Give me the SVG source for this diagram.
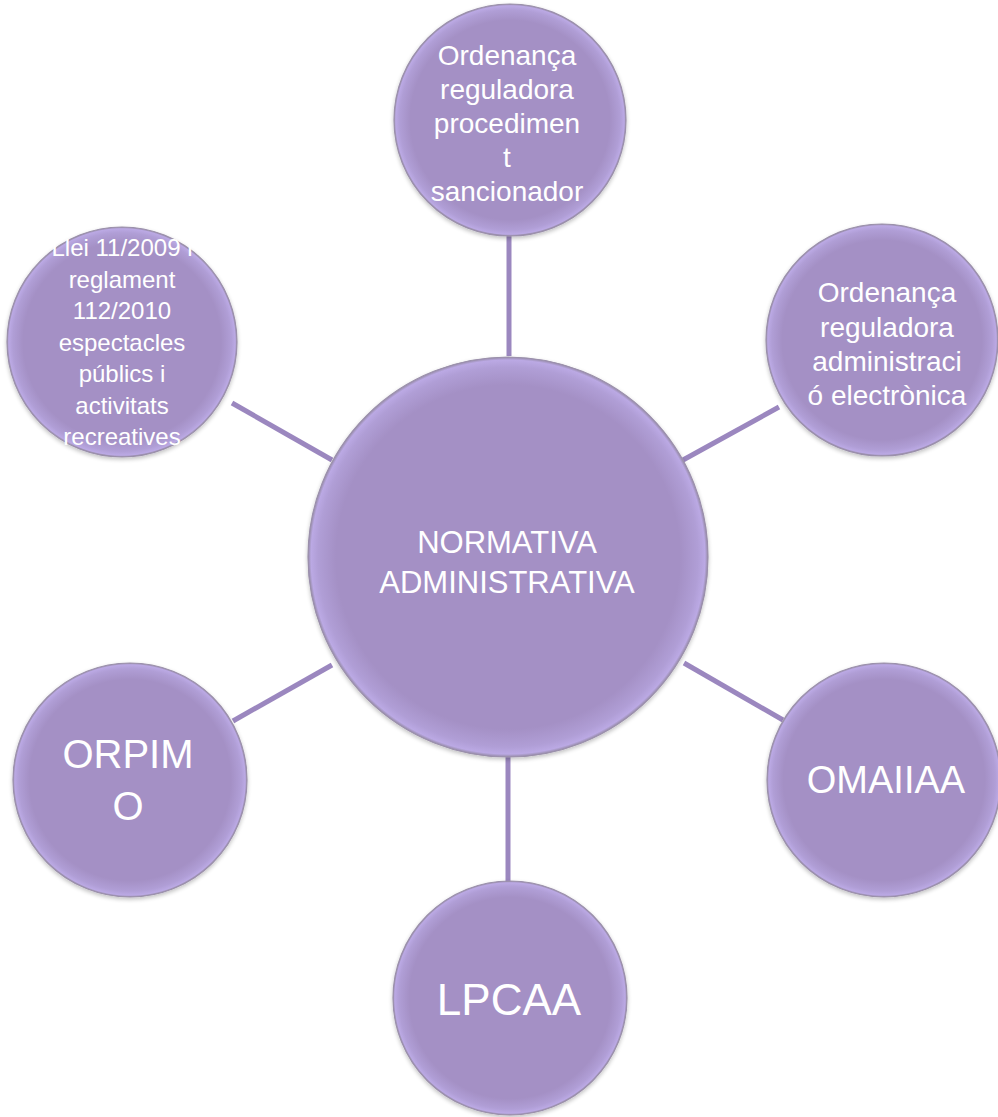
<svg xmlns="http://www.w3.org/2000/svg" width="998" height="1117" viewBox="0 0 998 1117">
<defs>
<radialGradient id="g" cx="0.5" cy="0.5" r="0.5">
<stop offset="0" stop-color="#a490c5"/>
<stop offset="0.86" stop-color="#a490c5"/>
<stop offset="0.95" stop-color="#b09ed6"/>
<stop offset="0.985" stop-color="#bba9e4"/>
<stop offset="1" stop-color="#958aa6"/>
</radialGradient>
<filter id="sh" x="-10%" y="-10%" width="120%" height="120%">
<feGaussianBlur in="SourceAlpha" stdDeviation="2"/>
<feOffset dx="0" dy="2"/>
<feComponentTransfer><feFuncA type="linear" slope="0.25"/></feComponentTransfer>
<feMerge><feMergeNode/><feMergeNode in="SourceGraphic"/></feMerge>
</filter>
</defs>
<style>
.c{fill:url(#g);stroke:#9b90ab;stroke-width:1.2;filter:url(#sh)}
.t{fill:#ffffff;font-family:"Liberation Sans",Arial,sans-serif;text-anchor:middle}
.l{stroke:#9b87bf;stroke-width:5;fill:none}
</style>
<rect width="998" height="1117" fill="#ffffff"/>
<g id="connectors">
<line class="l" x1="509" y1="232" x2="509" y2="356"/>
<line class="l" x1="232" y1="403" x2="332" y2="460"/>
<line class="l" x1="683" y1="460" x2="779" y2="407"/>
<line class="l" x1="233" y1="721" x2="332" y2="665"/>
<line class="l" x1="684" y1="663" x2="783" y2="720"/>
<line class="l" x1="508" y1="757" x2="508" y2="884"/>
</g>
<g id="center">
<circle class="c" cx="508" cy="557" r="200"/>
<text class="t" font-size="31" x="507" y="553">NORMATIVA</text>
<text class="t" font-size="31" x="507" y="593">ADMINISTRATIVA</text>
</g>
<g id="top">
<circle class="c" cx="510" cy="120" r="116"/>
<text class="t" font-size="28"><tspan x="507" y="65">Ordenança</tspan><tspan x="507" y="99">reguladora</tspan><tspan x="507" y="133">procedimen</tspan><tspan x="507" y="167">t</tspan><tspan x="507" y="201">sancionador</tspan></text>
</g>
<g id="upper-left">
<circle class="c" cx="122" cy="342" r="115"/>
<text class="t" font-size="24"><tspan x="122" y="256">Llei 11/2009 i</tspan><tspan x="122" y="287.5">reglament</tspan><tspan x="122" y="319">112/2010</tspan><tspan x="122" y="350.5">espectacles</tspan><tspan x="122" y="382">públics i</tspan><tspan x="122" y="413.5">activitats</tspan><tspan x="122" y="445">recreatives</tspan></text>
</g>
<g id="upper-right">
<circle class="c" cx="882" cy="340" r="116"/>
<text class="t" font-size="28"><tspan x="887" y="302">Ordenança</tspan><tspan x="887" y="337">reguladora</tspan><tspan x="887" y="371">administraci</tspan><tspan x="887" y="405">ó electrònica</tspan></text>
</g>
<g id="lower-left">
<circle class="c" cx="130" cy="780" r="117"/>
<text class="t" font-size="40"><tspan x="128" y="768">ORPIM</tspan><tspan x="128" y="820">O</tspan></text>
</g>
<g id="lower-right">
<circle class="c" cx="884" cy="780" r="117"/>
<text class="t" font-size="38" x="886" y="793">OMAIIAA</text>
</g>
<g id="bottom">
<circle class="c" cx="510" cy="998" r="117"/>
<text class="t" font-size="44" x="509" y="1015">LPCAA</text>
</g>
</svg>
